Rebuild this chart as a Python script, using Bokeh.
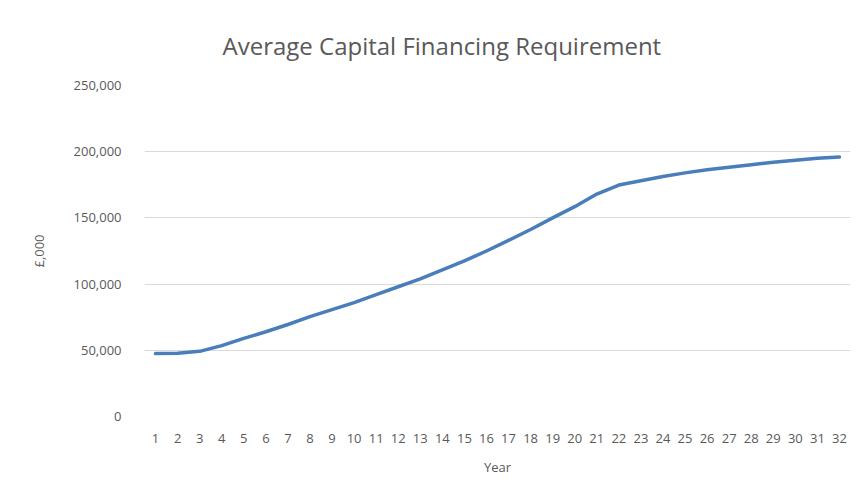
from bokeh.plotting import figure
from bokeh.models import NumeralTickFormatter, FixedTicker, Range1d
from bokeh.embed import file_html
from bokeh.resources import INLINE

years = list(range(1, 33))
cfr = [47500, 47800, 49200, 53500, 59000, 64000, 69500, 75400, 80700, 86000,
       92000, 98000, 104000, 110800, 117600, 125000, 133000, 141200, 150000, 158500,
       168000, 174800, 178000, 181200, 184000, 186300, 188300, 190200, 192000, 193600,
       195000, 196000]
y_ticks = [0, 50000, 100000, 150000, 200000, 250000]
title_text = "Average Capital Financing Requirement"

FONT = "Open Sans"
GREY = "#595959"

p = figure(width=850, height=486, output_backend="svg", toolbar_location=None,
           x_range=Range1d(0.5, 32.5), y_range=Range1d(0, 250000),
           min_border_left=144, min_border_right=0, min_border_top=85, min_border_bottom=70)
p.outline_line_color = None
p.background_fill_color = "white"
p.border_fill_color = "white"

p.title.text = title_text
p.title.align = "left"
p.title.offset = 78
p.title.standoff = 47
p.title.text_font = FONT
p.title.text_font_size = "24px"
p.title.text_font_style = "normal"
p.title.text_color = GREY

p.line(years, cfr, line_color="#4A7EBB", line_width=3.5, line_join="round", line_cap="round")

p.xgrid.grid_line_color = None
p.ygrid.grid_line_color = "#D9D9D9"
p.ygrid.grid_line_width = 1

p.yaxis.ticker = FixedTicker(ticks=y_ticks)
p.yaxis.formatter = NumeralTickFormatter(format="0,0")
p.xaxis.ticker = FixedTicker(ticks=years)

for ax in (p.xaxis[0], p.yaxis[0]):
    ax.axis_line_color = None
    ax.major_tick_line_color = None
    ax.minor_tick_line_color = None
    ax.major_label_text_font = FONT
    ax.major_label_text_font_size = "13px"
    ax.major_label_text_color = GREY
    ax.axis_label_text_font = FONT
    ax.axis_label_text_font_size = "13px"
    ax.axis_label_text_color = GREY
    ax.axis_label_text_font_style = "normal"

p.xaxis.major_label_standoff = 11
p.yaxis.major_label_standoff = 17
p.xaxis.axis_label = "Year"
p.xaxis.axis_label_standoff = 12
p.yaxis.axis_label = "£,000"
p.yaxis.axis_label_standoff = 23

open("out.html", "w").write(file_html(p, INLINE))
